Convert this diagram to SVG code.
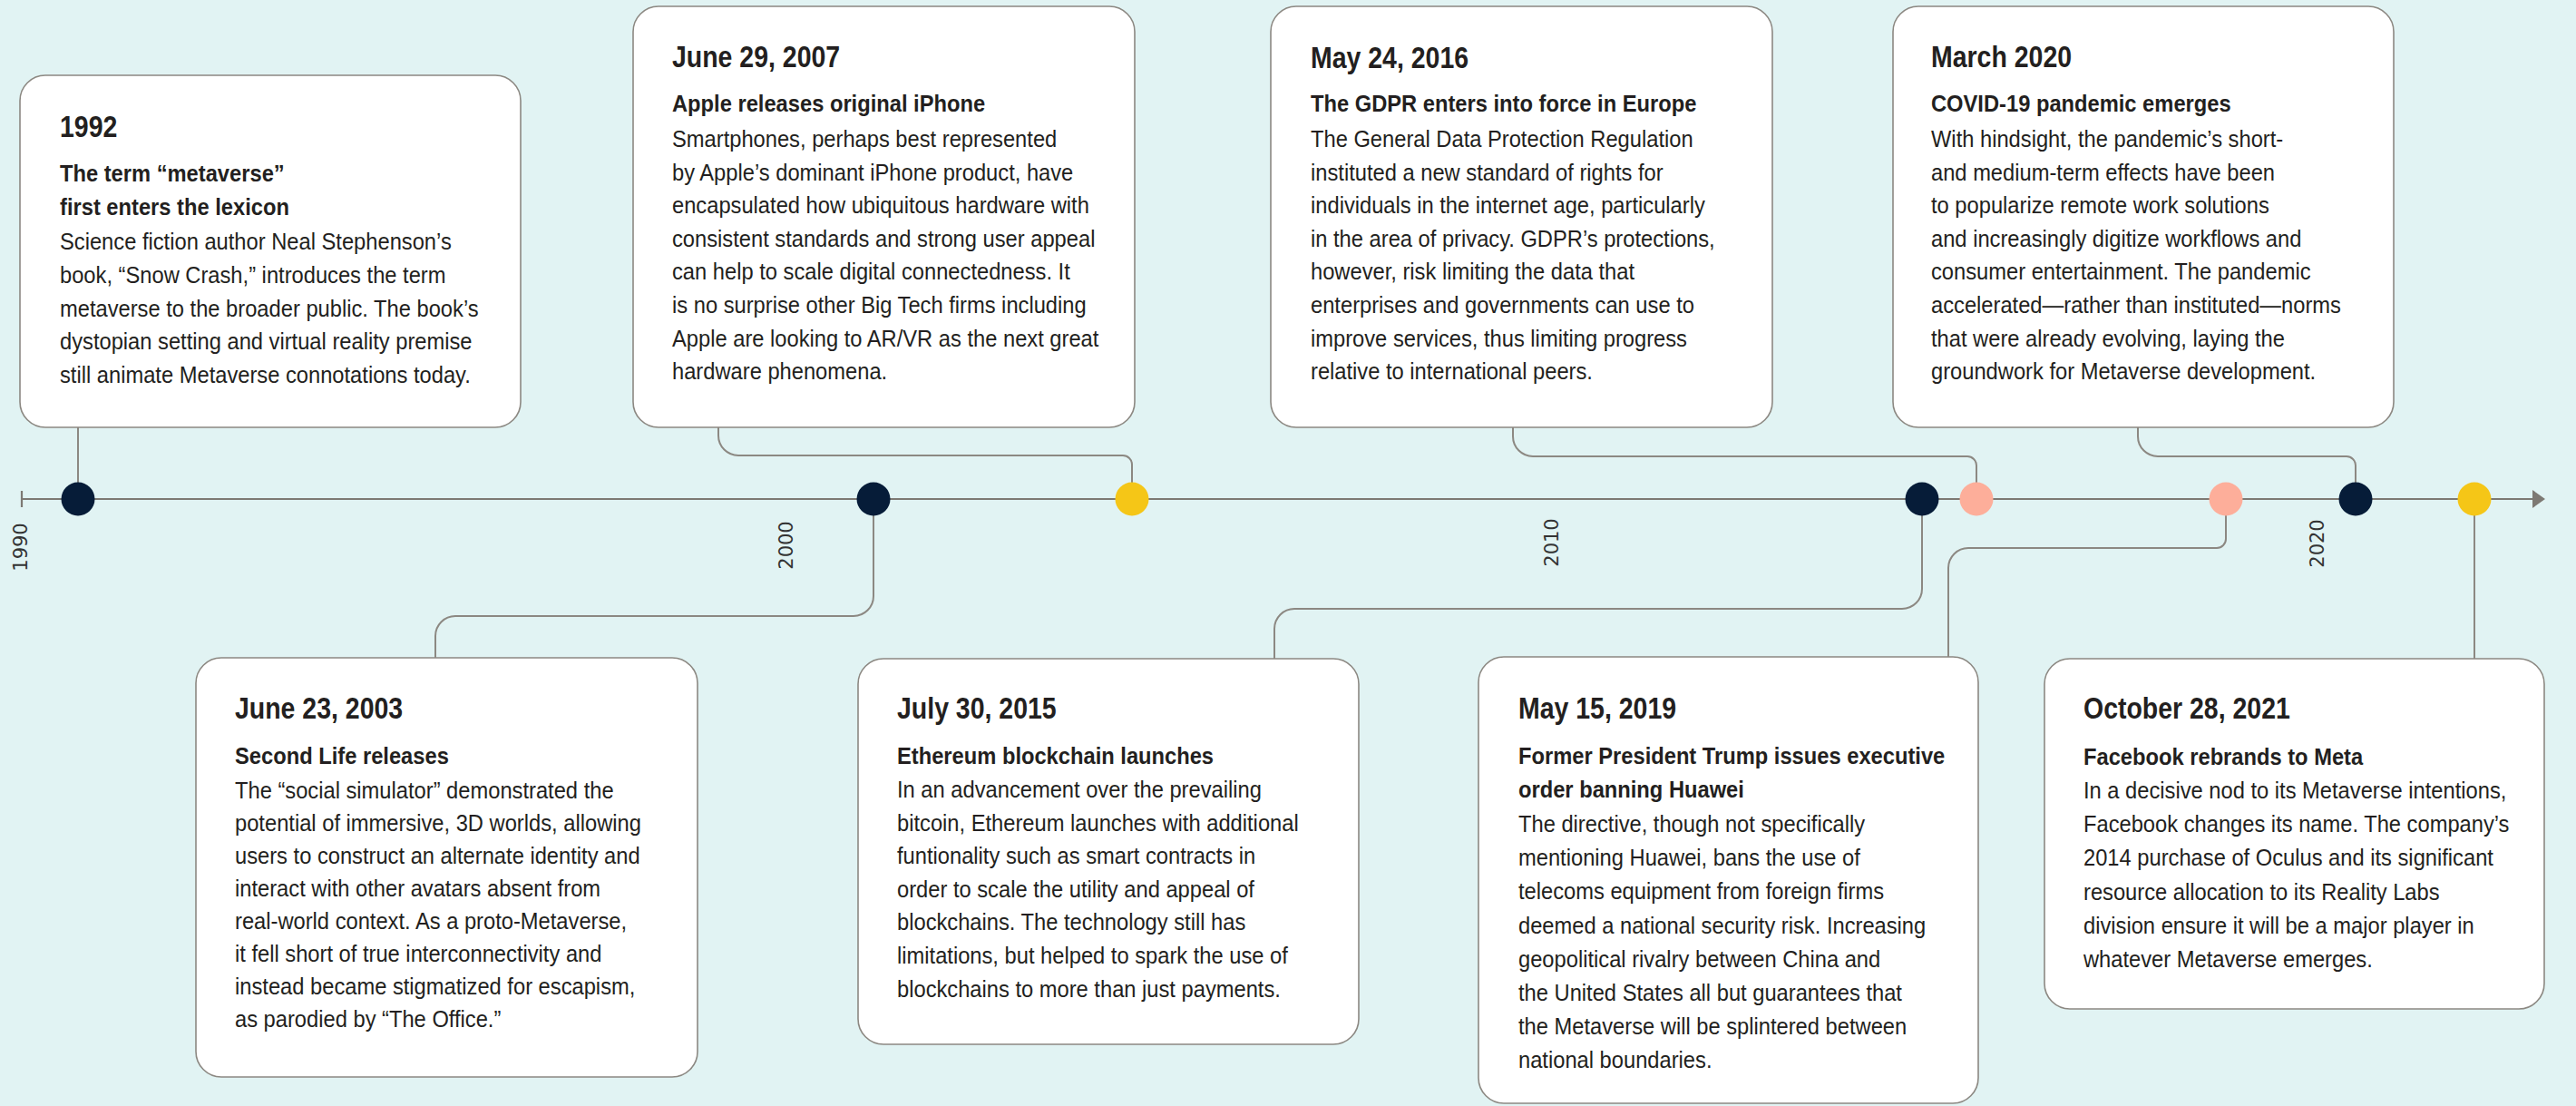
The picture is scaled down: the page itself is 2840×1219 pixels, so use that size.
<svg xmlns="http://www.w3.org/2000/svg" width="2840" height="1219" viewBox="0 0 2840 1219">
<style>
.bg{fill:#e1f3f3}
.card{fill:#ffffff;stroke:#8c8882;stroke-width:1.6}
.axis{stroke:#7d7973;stroke-width:2.2;fill:none}
.conn{stroke:#8c8882;stroke-width:2;fill:none}
.navy{fill:#061c38}
.yellow{fill:#f5c617}
.pink{fill:#fdae9a}
.date{font-family:"Liberation Sans",Arial,sans-serif;font-weight:700;font-size:33.5px;fill:#231f20;transform:scaleX(0.85)}
.head{font-family:"Liberation Sans",Arial,sans-serif;font-weight:700;font-size:25.5px;fill:#231f20;transform:scaleX(0.93)}
.body{font-family:"Liberation Sans",Arial,sans-serif;font-weight:400;font-size:25.5px;fill:#231f20;transform:scaleX(0.93)}
.year{font-family:"DejaVu Sans","Liberation Sans",sans-serif;font-size:21px;fill:#333333;text-anchor:middle}
</style>
<defs>
<marker id="arrow" markerWidth="14" markerHeight="20" refX="1" refY="10" orient="auto" markerUnits="userSpaceOnUse">
<path d="M0 0 L14 10 L0 20 Z" fill="#7d7973"/>
</marker>
</defs>
<rect class="bg" x="0" y="0" width="2840" height="1219"/>

<g id="timeline">
<line class="axis" x1="24" y1="550" x2="2793" y2="550" marker-end="url(#arrow)"/>
<line class="axis" x1="24" y1="541" x2="24" y2="559" stroke-width="3"/>
<text class="year" transform="translate(30,603) rotate(-90)">1990</text>
<text class="year" transform="translate(874,601) rotate(-90)">2000</text>
<text class="year" transform="translate(1718,598) rotate(-90)">2010</text>
<text class="year" transform="translate(2562,599) rotate(-90)">2020</text>
</g>

<g id="connectors">
<path class="conn" d="M86 471 V532"/>
<path class="conn" d="M792 471 V480 A22 22 0 0 0 814 502 H1238 A10 10 0 0 1 1248 512 V532"/>
<path class="conn" d="M1668 471 V481 A22 22 0 0 0 1690 503 H2169 A10 10 0 0 1 2179 513 V532"/>
<path class="conn" d="M2357 471 V481 A22 22 0 0 0 2379 503 H2587 A10 10 0 0 1 2597 513 V532"/>
<path class="conn" d="M963 568 V657 A22 22 0 0 1 941 679 H502 A22 22 0 0 0 480 701 V725"/>
<path class="conn" d="M2119 568 V649 A22 22 0 0 1 2097 671 H1427 A22 22 0 0 0 1405 693 V726"/>
<path class="conn" d="M2454 568 V594 A10 10 0 0 1 2444 604 H2170 A22 22 0 0 0 2148 626 V724"/>
<path class="conn" d="M2728 568 V726"/>
</g>

<g id="node-1992">
<circle class="navy" cx="86" cy="550" r="18.5"/>
<rect class="card" x="22" y="83" width="552" height="388" rx="28"/>
<g transform="translate(66,83)">
<text class="date" x="0" y="68">1992</text>
<text class="head" y="117"><tspan x="0">The term “metaverse”</tspan><tspan x="0" dy="37">first enters the lexicon</tspan></text>
<text class="body" y="192"><tspan x="0">Science fiction author Neal Stephenson’s</tspan><tspan x="0" dy="36.8">book, “Snow Crash,” introduces the term</tspan><tspan x="0" dy="36.8">metaverse to the broader public. The book’s</tspan><tspan x="0" dy="36.8">dystopian setting and virtual reality premise</tspan><tspan x="0" dy="36.8">still animate Metaverse connotations today.</tspan></text>
</g>
</g>

<g id="node-2003">
<circle class="navy" cx="963" cy="550" r="18.5"/>
<rect class="card" x="216" y="725" width="553" height="462" rx="28"/>
<g transform="translate(259,725)">
<text class="date" x="0" y="67">June 23, 2003</text>
<text class="head" x="0" y="117">Second Life releases</text>
<text class="body" y="155"><tspan x="0">The “social simulator” demonstrated the</tspan><tspan x="0" dy="36">potential of immersive, 3D worlds, allowing</tspan><tspan x="0" dy="36">users to construct an alternate identity and</tspan><tspan x="0" dy="36">interact with other avatars absent from</tspan><tspan x="0" dy="36">real-world context. As a proto-Metaverse,</tspan><tspan x="0" dy="36">it fell short of true interconnectivity and</tspan><tspan x="0" dy="36">instead became stigmatized for escapism,</tspan><tspan x="0" dy="36">as parodied by “The Office.”</tspan></text>
</g>
</g>

<g id="node-2007">
<circle class="yellow" cx="1248" cy="550" r="18.5"/>
<rect class="card" x="698" y="7" width="553" height="464" rx="28"/>
<g transform="translate(741,7)">
<text class="date" x="0" y="67">June 29, 2007</text>
<text class="head" x="0" y="116">Apple releases original iPhone</text>
<text class="body" y="155"><tspan x="0">Smartphones, perhaps best represented</tspan><tspan x="0" dy="36.6">by Apple’s dominant iPhone product, have</tspan><tspan x="0" dy="36.6">encapsulated how ubiquitous hardware with</tspan><tspan x="0" dy="36.6">consistent standards and strong user appeal</tspan><tspan x="0" dy="36.6">can help to scale digital connectedness. It</tspan><tspan x="0" dy="36.6">is no surprise other Big Tech firms including</tspan><tspan x="0" dy="36.6">Apple are looking to AR/VR as the next great</tspan><tspan x="0" dy="36.6">hardware phenomena.</tspan></text>
</g>
</g>

<g id="node-2015">
<circle class="navy" cx="2119" cy="550" r="18.5"/>
<rect class="card" x="946" y="726" width="552" height="425" rx="28"/>
<g transform="translate(989,726)">
<text class="date" x="0" y="66">July 30, 2015</text>
<text class="head" x="0" y="116">Ethereum blockchain launches</text>
<text class="body" y="153"><tspan x="0">In an advancement over the prevailing</tspan><tspan x="0" dy="36.6">bitcoin, Ethereum launches with additional</tspan><tspan x="0" dy="36.6">funtionality such as smart contracts in</tspan><tspan x="0" dy="36.6">order to scale the utility and appeal of</tspan><tspan x="0" dy="36.6">blockchains. The technology still has</tspan><tspan x="0" dy="36.6">limitations, but helped to spark the use of</tspan><tspan x="0" dy="36.6">blockchains to more than just payments.</tspan></text>
</g>
</g>

<g id="node-2016">
<circle class="pink" cx="2179" cy="550" r="18.5"/>
<rect class="card" x="1401" y="7" width="553" height="464" rx="28"/>
<g transform="translate(1445,7)">
<text class="date" x="0" y="68">May 24, 2016</text>
<text class="head" x="0" y="116">The GDPR enters into force in Europe</text>
<text class="body" y="155"><tspan x="0">The General Data Protection Regulation</tspan><tspan x="0" dy="36.6">instituted a new standard of rights for</tspan><tspan x="0" dy="36.6">individuals in the internet age, particularly</tspan><tspan x="0" dy="36.6">in the area of privacy. GDPR’s protections,</tspan><tspan x="0" dy="36.6">however, risk limiting the data that</tspan><tspan x="0" dy="36.6">enterprises and governments can use to</tspan><tspan x="0" dy="36.6">improve services, thus limiting progress</tspan><tspan x="0" dy="36.6">relative to international peers.</tspan></text>
</g>
</g>

<g id="node-2019">
<circle class="pink" cx="2454" cy="550" r="18.5"/>
<rect class="card" x="1630" y="724" width="551" height="492" rx="28"/>
<g transform="translate(1674,724)">
<text class="date" x="0" y="68">May 15, 2019</text>
<text class="head" y="118"><tspan x="0">Former President Trump issues executive</tspan><tspan x="0" dy="37">order banning Huawei</tspan></text>
<text class="body" y="193"><tspan x="0">The directive, though not specifically</tspan><tspan x="0" dy="37.2">mentioning Huawei, bans the use of</tspan><tspan x="0" dy="37.2">telecoms equipment from foreign firms</tspan><tspan x="0" dy="37.2">deemed a national security risk. Increasing</tspan><tspan x="0" dy="37.2">geopolitical rivalry between China and</tspan><tspan x="0" dy="37.2">the United States all but guarantees that</tspan><tspan x="0" dy="37.2">the Metaverse will be splintered between</tspan><tspan x="0" dy="37.2">national boundaries.</tspan></text>
</g>
</g>

<g id="node-2020">
<circle class="navy" cx="2597" cy="550" r="18.5"/>
<rect class="card" x="2087" y="7" width="552" height="464" rx="28"/>
<g transform="translate(2129,7)">
<text class="date" x="0" y="67">March 2020</text>
<text class="head" x="0" y="116">COVID-19 pandemic emerges</text>
<text class="body" y="155"><tspan x="0">With hindsight, the pandemic’s short-</tspan><tspan x="0" dy="36.6">and medium-term effects have been</tspan><tspan x="0" dy="36.6">to popularize remote work solutions</tspan><tspan x="0" dy="36.6">and increasingly digitize workflows and</tspan><tspan x="0" dy="36.6">consumer entertainment. The pandemic</tspan><tspan x="0" dy="36.6">accelerated—rather than instituted—norms</tspan><tspan x="0" dy="36.6">that were already evolving, laying the</tspan><tspan x="0" dy="36.6">groundwork for Metaverse development.</tspan></text>
</g>
</g>

<g id="node-2021">
<circle class="yellow" cx="2728" cy="550" r="18.5"/>
<rect class="card" x="2254" y="726" width="551" height="386" rx="28"/>
<g transform="translate(2297,726)">
<text class="date" x="0" y="66">October 28, 2021</text>
<text class="head" x="0" y="117">Facebook rebrands to Meta</text>
<text class="body" y="154"><tspan x="0">In a decisive nod to its Metaverse intentions,</tspan><tspan x="0" dy="37.2">Facebook changes its name. The company’s</tspan><tspan x="0" dy="37.2">2014 purchase of Oculus and its significant</tspan><tspan x="0" dy="37.2">resource allocation to its Reality Labs</tspan><tspan x="0" dy="37.2">division ensure it will be a major player in</tspan><tspan x="0" dy="37.2">whatever Metaverse emerges.</tspan></text>
</g>
</g>
</svg>
